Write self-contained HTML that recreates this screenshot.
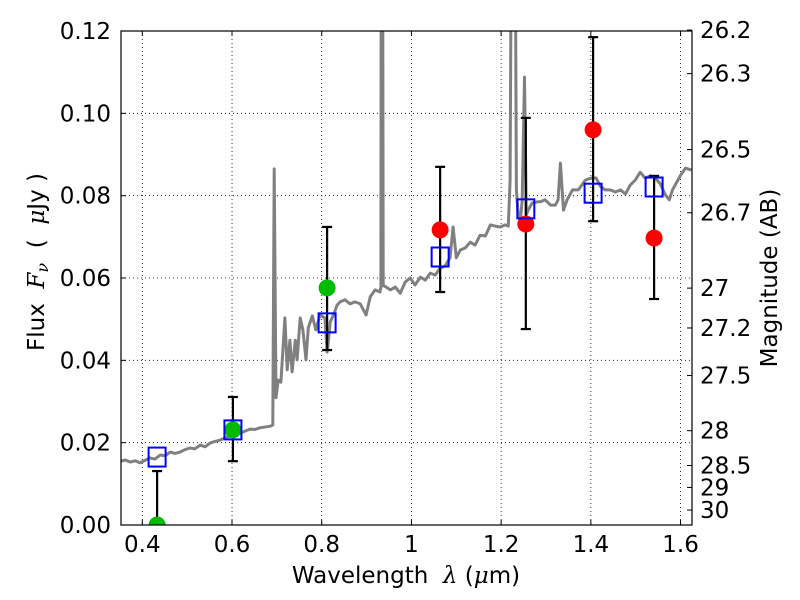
<!DOCTYPE html>
<html><head><meta charset="utf-8"><style>
html,body{margin:0;padding:0;background:#fff;}
svg{display:block;font-family:"DejaVu Sans","Liberation Sans",sans-serif;}
</style></head><body>
<svg id="chart" width="800" height="600" viewBox="0 0 800 600" xmlns="http://www.w3.org/2000/svg"></svg>
<script>
const specWave=[0.3525,0.362,0.373,0.384,0.395,0.406,0.417,0.428,0.440,0.451,0.462,0.473,0.484,0.495,0.506,0.517,0.529,0.540,0.551,0.562,0.573,0.585,0.596,0.607,0.618,0.629,0.640,0.651,0.662,0.685,0.691,0.694,0.698,0.703,0.709,0.718,0.723,0.729,0.734,0.741,0.745,0.752,0.758,0.765,0.770,0.779,0.787,0.796,0.807,0.812,0.814,0.819,0.828,0.834,0.841,0.852,0.863,0.874,0.886,0.899,0.908,0.919,0.930,0.932,0.933,0.935,0.937,0.939,0.953,0.964,0.975,0.986,0.997,1.008,1.020,1.031,1.042,1.053,1.064,1.075,1.086,1.093,1.100,1.109,1.120,1.131,1.142,1.153,1.165,1.176,1.187,1.198,1.209,1.216,1.220,1.225,1.229,1.234,1.238,1.243,1.247,1.252,1.256,1.260,1.269,1.281,1.287,1.298,1.310,1.321,1.327,1.332,1.339,1.347,1.359,1.372,1.388,1.401,1.412,1.421,1.432,1.443,1.455,1.466,1.477,1.488,1.499,1.510,1.521,1.533,1.544,1.555,1.566,1.575,1.582,1.588,1.600,1.611,1.624];
const specFlux=[0.0155,0.0158,0.0153,0.0156,0.0151,0.0157,0.0163,0.0160,0.0170,0.0168,0.0177,0.0174,0.0177,0.0183,0.0187,0.0185,0.0194,0.0190,0.0199,0.0203,0.0206,0.0212,0.0216,0.0219,0.0223,0.0228,0.0233,0.0232,0.0236,0.0240,0.0243,0.0865,0.0309,0.0352,0.0347,0.0503,0.0377,0.0449,0.0372,0.0449,0.0401,0.0503,0.0474,0.0401,0.0479,0.0508,0.0474,0.0510,0.0503,0.0420,0.0437,0.0493,0.0515,0.0534,0.0542,0.0547,0.0537,0.0542,0.0537,0.0510,0.0554,0.0571,0.0566,0.0578,0.2,0.2,0.0581,0.0581,0.0571,0.0578,0.0563,0.0590,0.0600,0.0583,0.0602,0.0595,0.0612,0.0607,0.0624,0.0629,0.0649,0.0724,0.0649,0.0668,0.0673,0.0687,0.0680,0.0704,0.0702,0.0729,0.0726,0.0724,0.0729,0.0726,0.0838,0.2,0.2,0.0814,0.0753,0.0741,0.0790,0.1088,0.0753,0.0765,0.0782,0.0785,0.0785,0.0790,0.0777,0.0777,0.0790,0.0879,0.0765,0.0790,0.0814,0.0814,0.0838,0.0843,0.0843,0.0823,0.0814,0.0814,0.0809,0.0814,0.0804,0.0826,0.0838,0.0857,0.0843,0.0848,0.0843,0.0828,0.0802,0.0790,0.0814,0.0826,0.0850,0.0867,0.0862];
const modelWave=[0.433,0.602,0.812,1.064,1.255,1.405,1.541];
const modelFlux=[0.0165,0.0231,0.0491,0.0651,0.0768,0.0806,0.0821];
const obsFlux=[0.0,0.0231,0.0576,0.0717,0.0731,0.0960,0.0697];
const errHigh=[0.0131,0.0311,0.0724,0.0870,0.0989,0.1185,0.0848];
const errLow=[0.0,0.0155,0.0425,0.0566,0.0476,0.0738,0.0549];
const obsColor=['#00bb00','#00bb00','#00bb00','#ff0000','#ff0000','#ff0000','#ff0000'];
const xTicks=[0.4,0.6,0.8,1.0,1.2,1.4,1.6];
const xTickLabels=['0.4','0.6','0.8','1','1.2','1.4','1.6'];
const yTicks=[0,0.02,0.04,0.06,0.08,0.10,0.12];
const yTickLabels=['0.00','0.02','0.04','0.06','0.08','0.10','0.12'];
const magTicks=[26.2,26.3,26.5,26.7,27,27.2,27.5,28,28.5,29,30];
const magTickLabels=['26.2','26.3','26.5','26.7','27','27.2','27.5','28','28.5','29','30'];

const L=121,R=692,T=31,B=525;
const X0=0.3525,X1=1.6255,Y0=0,Y1=0.12;
const sx=v=>L+(v-X0)/(X1-X0)*(R-L);
const sy=v=>B-(v-Y0)/(Y1-Y0)*(B-T);
const magToFlux=m=>Math.pow(10,(23.9-m)/2.5);
const NS='http://www.w3.org/2000/svg';
const svg=document.getElementById('chart');
function mk(tag,attrs,parent){const e=document.createElementNS(NS,tag);for(const k in attrs)e.setAttribute(k,attrs[k]);(parent||svg).appendChild(e);return e;}

const defs=mk('defs',{});
const cp=mk('clipPath',{id:'clip'},defs);
mk('rect',{x:L,y:T,width:R-L,height:B-T},cp);

const grid=mk('g',{});


xTicks.forEach(v=>{mk('line',{x1:sx(v),x2:sx(v),y1:T,y2:B,stroke:'#000','stroke-width':0.8,'stroke-dasharray':'1,3'},grid);});
yTicks.forEach(v=>{mk('line',{x1:L,x2:R,y1:sy(v),y2:sy(v),stroke:'#000','stroke-width':0.8,'stroke-dasharray':'1,3'},grid);});

const plot=mk('g',{'clip-path':'url(#clip)'});
let d='';
specWave.forEach((w,i)=>{d+=(i?'L':'M')+sx(w).toFixed(1)+','+sy(specFlux[i]).toFixed(1);});
const sp=mk('path',{d:d,fill:'none',stroke:'#808080','stroke-width':3,'stroke-linejoin':'round'},plot);



modelWave.forEach((w,i)=>{
  const x=sx(w);
  const g=mk('g',{},plot);
  
  
  mk('line',{x1:x,x2:x,y1:sy(errLow[i]),y2:sy(errHigh[i]),stroke:'#000','stroke-width':2.2},g);
  mk('line',{x1:x-5,x2:x+5,y1:sy(errLow[i]),y2:sy(errLow[i]),stroke:'#000','stroke-width':2.2},g);
  mk('line',{x1:x-5,x2:x+5,y1:sy(errHigh[i]),y2:sy(errHigh[i]),stroke:'#000','stroke-width':2.2},g);
  mk('circle',{cx:x,cy:sy(obsFlux[i]),r:8.5,fill:obsColor[i]},g);
});
modelWave.forEach((w,i)=>{
  const s=mk('rect',{x:sx(w)-8.5,y:sy(modelFlux[i])-9.5,width:17,height:19,fill:'none',stroke:'#0000ff','stroke-width':2},plot);
  
  
});

const fr=mk('rect',{x:L,y:T,width:R-L,height:B-T,fill:'none',stroke:'#000','stroke-width':1.2});



const FS=23;
const xa=mk('g',{});


xTicks.forEach((v,i)=>{
  const x=sx(v);
  mk('line',{x1:x,x2:x,y1:B,y2:B-5,stroke:'#000','stroke-width':1},xa);
  mk('line',{x1:x,x2:x,y1:T,y2:T+5,stroke:'#000','stroke-width':1},xa);
  const t=mk('text',{x:x,y:B+27,'text-anchor':'middle','font-size':FS},xa);
  t.textContent=xTickLabels[i];
});
const ya=mk('g',{});


yTicks.forEach((v,i)=>{
  const y=sy(v);
  mk('line',{x1:L,x2:L+5,y1:y,y2:y,stroke:'#000','stroke-width':1},ya);
  const t=mk('text',{x:L-10,y:y+8,'text-anchor':'end','font-size':FS},ya);
  t.textContent=yTickLabels[i];
});
const ma=mk('g',{});


magTicks.forEach((m,i)=>{
  const y=sy(magToFlux(m));
  mk('line',{x1:R,x2:R-5,y1:y,y2:y,stroke:'#000','stroke-width':1},ma);
  const t=mk('text',{x:R+8,y:y+8,'text-anchor':'start','font-size':FS},ma);
  t.textContent=magTickLabels[i];
});
</script>
<svg style="position:absolute;left:0;top:0" width="800" height="600">
<text x="406" y="583" text-anchor="middle" font-size="23" font-family="DejaVu Sans, Liberation Sans, sans-serif" xml:space="preserve">Wavelength  <tspan font-style="italic" font-family="DejaVu Serif, serif">λ</tspan> (<tspan font-style="italic" font-family="DejaVu Serif, serif">μ</tspan>m)</text>
<text transform="translate(44,262) rotate(-90)" text-anchor="middle" font-size="23" font-family="DejaVu Sans, Liberation Sans, sans-serif" xml:space="preserve">Flux  <tspan font-style="italic" font-family="DejaVu Serif, serif">F</tspan><tspan font-style="italic" font-family="DejaVu Serif, serif" font-size="16" dy="4">ν</tspan><tspan dy="-4">  (  </tspan><tspan font-style="italic" font-family="DejaVu Serif, serif">μ</tspan>Jy )</text>
<text transform="translate(777,278) rotate(-90)" text-anchor="middle" font-size="23" font-family="DejaVu Sans, Liberation Sans, sans-serif">Magnitude (AB)</text>
</svg>
</body></html>
